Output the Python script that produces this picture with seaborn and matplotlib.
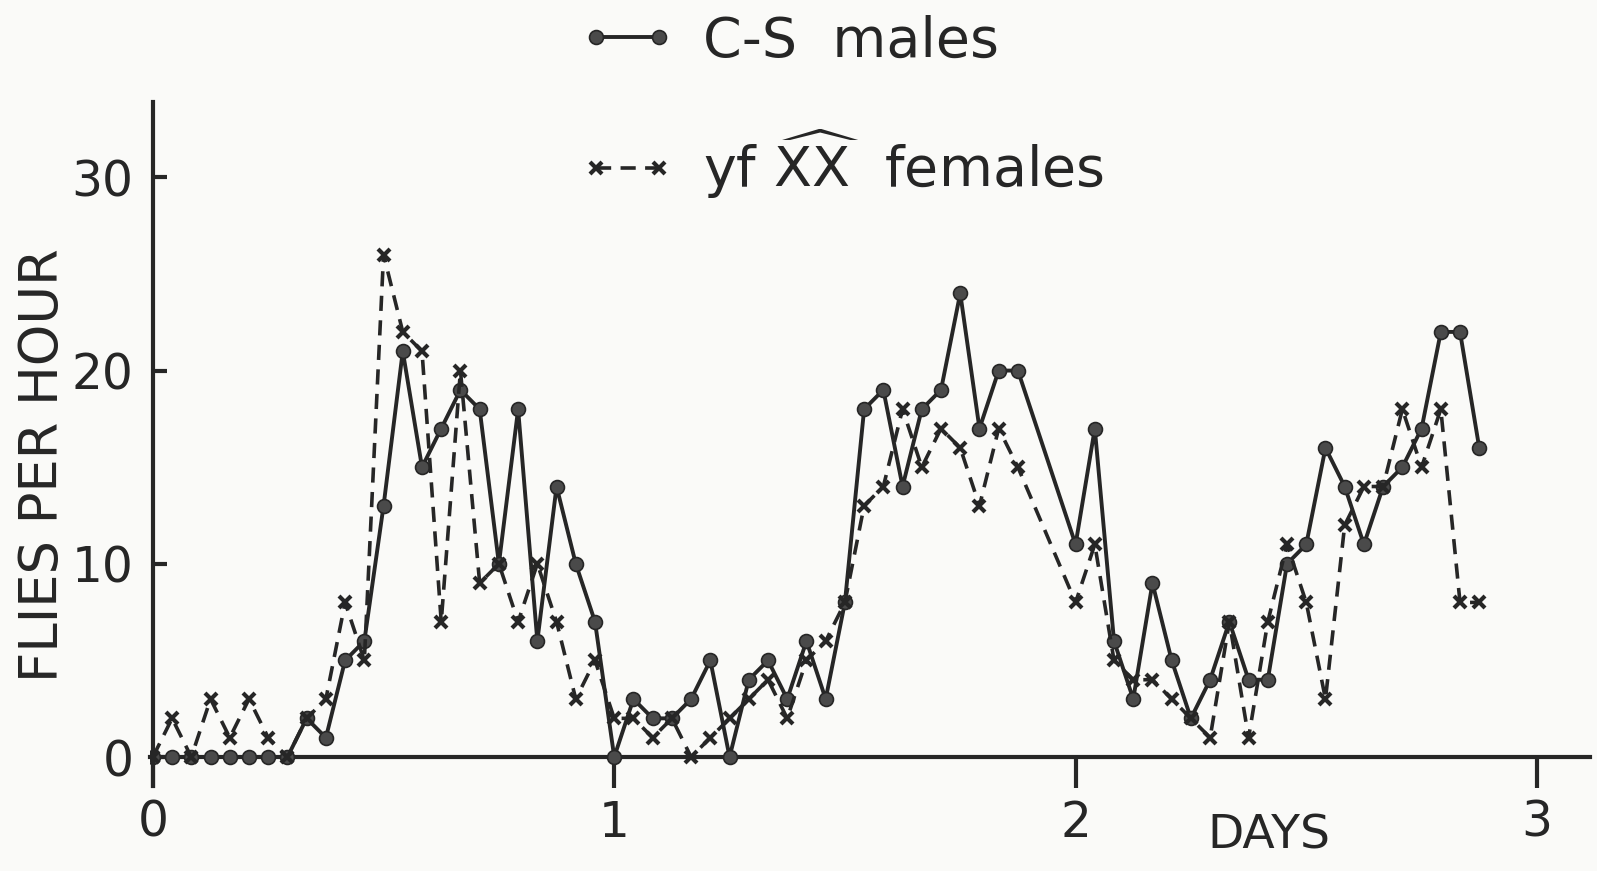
import numpy as np
import pandas as pd
import matplotlib
matplotlib.use("Agg")
import matplotlib.pyplot as plt
import seaborn as sns

# Hourly emergence counts (hour of experiment -> flies per hour)
male_hours = [0, 1, 2, 3, 4, 5, 6, 7, 8, 9, 10, 11, 12, 13, 14, 15, 16, 17, 18, 19,
              20, 21, 22, 23, 24, 25, 26, 27, 28, 29, 30, 31, 32, 33, 34, 35, 36, 37,
              38, 39, 40, 41, 42, 43, 44, 45, 48, 49, 50, 51, 52, 53, 54, 55, 56, 57,
              58, 59, 60, 61, 62, 63, 64, 65, 66, 67, 68, 69]
male_counts = [0, 0, 0, 0, 0, 0, 0, 0, 2, 1, 5, 6, 13, 21, 15, 17, 19, 18, 10, 18,
               6, 14, 10, 7, 0, 3, 2, 2, 3, 5, 0, 4, 5, 3, 6, 3, 8, 18,
               19, 14, 18, 19, 24, 17, 20, 20, 11, 17, 6, 3, 9, 5, 2, 4, 7, 4,
               4, 10, 11, 16, 14, 11, 14, 15, 17, 22, 22, 16]

female_hours = male_hours
female_counts = [0, 2, 0, 3, 1, 3, 1, 0, 2, 3, 8, 5, 26, 22, 21, 7, 20, 9, 10, 7,
                 10, 7, 3, 5, 2, 2, 1, 2, 0, 1, 2, 3, 4, 2, 5, 6, 8, 13,
                 14, 18, 15, 17, 16, 13, 17, 15, 8, 11, 5, 4, 4, 3, 2, 1, 7, 1,
                 7, 11, 8, 3, 12, 14, 14, 18, 15, 18, 8, 8]

series_labels = ["C-S  males", r"yf $\widehat{\mathrm{XX}}$  females"]
x_ticks = [0, 1, 2, 3]
y_ticks = [0, 10, 20, 30]

males = pd.DataFrame({"day": np.array(male_hours) / 24.0, "flies": male_counts})
females = pd.DataFrame({"day": np.array(female_hours) / 24.0, "flies": female_counts})

sns.set_theme(style="white")
plt.rcParams["font.family"] = ["DejaVu Sans"]
plt.rcParams["mathtext.fontset"] = "dejavusans"

ink = "#262626"
bg = "#fafaf8"

fig = plt.figure(figsize=(15.97, 8.71), dpi=100, facecolor=bg)
ax = fig.add_axes([0.094, 0.0976, 0.9016, 0.7853])
ax.set_facecolor(bg)

sns.lineplot(data=males, x="day", y="flies", ax=ax, color=ink, linewidth=2.8,
             marker="o", markersize=10, markerfacecolor="#4a4a4a",
             markeredgecolor=ink, markeredgewidth=1.2, label=series_labels[0],
             sort=False, estimator=None)
sns.lineplot(data=females, x="day", y="flies", ax=ax, color=ink, linewidth=2.6,
             linestyle=(0, (4.2, 2.6)), marker="x", markersize=9,
             markeredgewidth=3.0, markeredgecolor=ink, label=series_labels[1],
             sort=False, estimator=None)

ax.set_xlim(-0.006, 3.115)
ax.set_ylim(-1.5, 33.9)

for side in ("top", "right"):
    ax.spines[side].set_visible(False)
ax.spines["bottom"].set_position(("data", 0))
ax.spines["left"].set_position(("data", 0))
for side in ("left", "bottom"):
    ax.spines[side].set_color(ink)
    ax.spines[side].set_linewidth(3.0)
ax.spines["bottom"].set_zorder(1)

ax.set_xticks(x_ticks)
ax.set_xticklabels([str(t) for t in x_ticks])
ax.set_yticks(y_ticks)
ax.set_yticklabels([str(t) for t in y_ticks])
ax.tick_params(axis="x", direction="out", length=22, width=3.0, color=ink,
               pad=8, labelsize=35, labelcolor=ink, bottom=True)
ax.tick_params(axis="y", direction="in", length=10, width=3.0, color=ink,
               pad=14, labelsize=35, labelcolor=ink, left=True)
ax.set_xlabel("")
ax.set_ylabel("")

fig.text(0.027, 0.466, "FLIES PER HOUR", rotation=90, ha="center", va="center",
         fontsize=38, color=ink)
ax.text(2.42, -4.1, "DAYS", ha="center", va="center", fontsize=34, color=ink,
        clip_on=False)

handles, labels = ax.get_legend_handles_labels()
ax.legend(handles, labels, loc="upper left", bbox_to_anchor=(0.3626, 0.983),
          bbox_transform=fig.transFigure, frameon=False, fontsize=40,
          labelspacing=1.05, handlelength=1.73, handletextpad=0.5, borderpad=0,
          borderaxespad=0, numpoints=2, labelcolor=ink)

fig.savefig("out.png", dpi=100, facecolor=bg)
